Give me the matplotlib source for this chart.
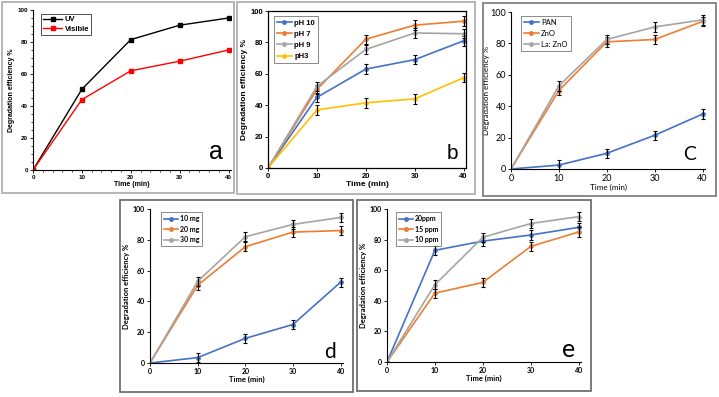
import matplotlib
matplotlib.use("Agg")
import matplotlib.pyplot as plt
from matplotlib.patches import Rectangle

W, H = 719, 397

time = [0, 10, 20, 30, 40]

# panel a
uv = [0, 50.5, 81.5, 90.5, 95]
visible = [0, 44, 62, 68, 75]

# panel b
ph10 = [0, 45, 63, 69, 81]
ph7 = [0, 50, 82, 91, 93.5]
ph9 = [0, 52, 75.5, 86, 85.5]
ph3 = [0, 37, 41.5, 44, 57.5]

# panel c
pan = [0, 2.5, 10, 21.5, 35]
zno = [0, 50, 81, 82.5, 94]
lazno = [0, 53, 82.5, 90.5, 95]

# panel d
mg10 = [0, 3.5, 16, 25, 52.5]
mg20 = [0, 50.5, 75.5, 85, 86]
mg30 = [0, 53, 82, 90, 94.5]

# panel e
ppm20 = [0, 73, 79, 83, 88]
ppm15 = [0, 45, 52, 75.5, 85]
ppm10 = [0, 50.5, 81.5, 90.5, 95]

err = [0, 3, 3, 3, 3]

BLUE, ORANGE, GRAY, YELLOW = "#4472C4", "#ED7D31", "#A5A5A5", "#FFC000"


def box(x0, y0, x1, y1):
    # pixel coordinates -> figure fraction
    return [x0 / W, 1 - y1 / H, (x1 - x0) / W, (y1 - y0) / H]


fig = plt.figure(figsize=(W / 100, H / 100), dpi=100)

# panel frames
for x0, y0, x1, y1, col in [(2, 2, 234, 193, "#b0b0b0"), (237, 2, 475, 194, "#b0b0b0"),
                            (483, 3, 716, 196, "#808080"), (120, 200, 353, 392, "#707070"),
                            (357, 200, 591, 391, "#707070")]:
    fig.patches.append(Rectangle((x0 / W, 1 - y1 / H), (x1 - x0) / W, (y1 - y0) / H,
                                 transform=fig.transFigure, fill=False, ec=col, lw=1.3))


def style(ax, family, weight, fs, letter, lfs, lpos, lab_fs=None, ypad=2):
    lab_fs = lab_fs or fs + 0.5
    ax.set_xlim(0, 40.5)
    ax.set_ylim(0, 100)
    ax.set_xticks([0, 10, 20, 30, 40])
    ax.set_yticks([0, 20, 40, 60, 80, 100])
    ax.tick_params(labelsize=fs, length=2, width=0.6, pad=1.5)
    for t in ax.get_xticklabels() + ax.get_yticklabels():
        t.set_family(family)
        t.set_weight(weight)
    ax.set_xlabel("Time (min)", family=family, weight=weight, fontsize=lab_fs, labelpad=1)
    ax.set_ylabel("Degradation efficiency %", family=family, weight=weight,
                  fontsize=lab_fs, labelpad=ypad)
    ax.text(lpos[0], lpos[1], letter, fontsize=lfs, family=family)


def excel(ax, series, family, weight, fs, legbox):
    for y, c, lab in series:
        ax.plot(time, y, color=c, lw=1.2, marker="o", ms=2.5, label=lab)
        ax.errorbar(time, y, yerr=err, fmt="none", ecolor="black",
                    elinewidth=0.8, capsize=1.5, capthick=0.8)
    leg = ax.legend(loc="upper left", bbox_to_anchor=legbox,
                    prop=dict(family=family, weight=weight, size=fs),
                    frameon=True, fancybox=False, edgecolor="#555555",
                    handlelength=2, handletextpad=0.3, borderpad=0.4, labelspacing=0.5)
    leg.get_frame().set_linewidth(0.6)


# a
ax = fig.add_axes(box(33, 10, 231, 170))
ax.plot(time, uv, color="black", marker="s", ms=2.5, lw=1, label="UV")
ax.plot(time, visible, color="red", marker="s", ms=2.5, lw=1, label="Visible")
style(ax, "Liberation Sans", "bold", 4.5, "a", 18, (36, 7))
ax.minorticks_on()
ax.tick_params(which="minor", length=1.2, width=0.5)
ax.tick_params(which="both", direction="out")
ax.spines[["top", "right"]].set_visible(False)
leg = ax.legend(loc="upper left", bbox_to_anchor=(0.02, 1.0),
                prop=dict(family="Liberation Sans", weight="bold", size=5.5),
                fancybox=False, edgecolor="black", handlelength=2.5,
                handletextpad=0.3, borderpad=0.3, labelspacing=0.3)
leg.get_frame().set_linewidth(0.6)

# b
ax = fig.add_axes(box(268, 11, 466, 168))
excel(ax, [(ph10, BLUE, "pH 10"), (ph7, ORANGE, "pH 7"), (ph9, GRAY, "pH 9"),
           (ph3, YELLOW, "pH3")], "Liberation Sans", "bold", 5.5, (0.01, 0.99))
style(ax, "Liberation Sans", "bold", 5.5, "b", 15, (36.5, 6))
for s in ax.spines.values():
    s.set_linewidth(0.9)

# c
ax = fig.add_axes(box(511, 12, 705, 169))
excel(ax, [(pan, BLUE, "PAN"), (zno, ORANGE, "ZnO"), (lazno, GRAY, "La: ZnO")],
      "Lato", "normal", 5.5, (0.03, 1.0))
style(ax, "Lato", "normal", 6.5, "C", 14, (36, 6), lab_fs=5.8, ypad=0.5)
ax.spines[["top", "right"]].set_visible(False)

# d
ax = fig.add_axes(box(150, 209, 343, 363))
excel(ax, [(mg10, BLUE, "10 mg"), (mg20, ORANGE, "20 mg"), (mg30, GRAY, "30 mg")],
      "Lato", "bold", 5, (0.04, 1.0))
style(ax, "Lato", "bold", 5, "d", 15, (36.5, 3))
ax.spines[["top", "right"]].set_visible(False)

# e
ax = fig.add_axes(box(387, 209, 581, 362))
excel(ax, [(ppm20, BLUE, "20ppm"), (ppm15, ORANGE, "15 ppm"), (ppm10, GRAY, "10 ppm")],
      "Lato", "bold", 5, (0.03, 1.0))
style(ax, "Lato", "bold", 5, "e", 18, (36.5, 3))
ax.spines[["top", "right"]].set_visible(False)

fig.savefig("out.png", dpi=100)
